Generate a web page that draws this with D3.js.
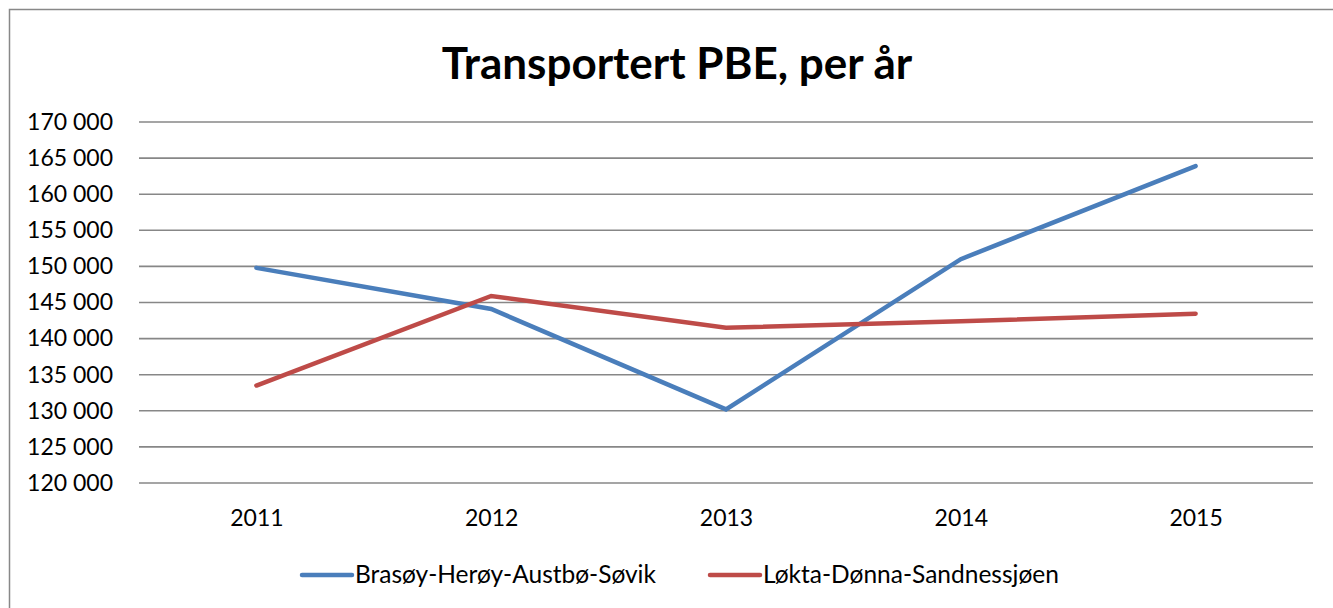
<!DOCTYPE html>
<html>
<head>
<meta charset="utf-8">
<script src="https://cdn.jsdelivr.net/npm/d3@7"></script>
<style>
  body { margin: 0; background: #fff; }
  svg { display: block; font-family: Lato, 'Open Sans', sans-serif; }
</style>
</head>
<body>
<svg id="chart" width="1333" height="608"></svg>
<script>
// chart data
var years = ['2011', '2012', '2013', '2014', '2015'];
var brasoyValues = [149800, 144100, 130200, 151000, 163900];
var loktaValues = [133500, 145900, 141500, 142400, 143450];
var seriesNames = ['Brasøy-Herøy-Austbø-Søvik', 'Løkta-Dønna-Sandnessjøen'];
var seriesColors = ['#4a7ebb', '#be4b48'];
var yTicks = [120000, 125000, 130000, 135000, 140000, 145000, 150000, 155000, 160000, 165000, 170000];

var svg = d3.select('#chart');
var margin = {top: 122, left: 139, right: 20};
var chartWidth = 1333 - margin.left - margin.right;
var chartHeight = 483 - margin.top;

// outer frame, only top and left show inside the window
svg.append('rect')
  .attr('x', 9.5).attr('y', 9.5)
  .attr('width', 1340).attr('height', 620)
  .attr('fill', 'none')
  .attr('stroke', '#888')
  .attr('stroke-width', 1.5);

svg.append('text')
  .attr('x', 677)
  .attr('y', 79)
  .attr('text-anchor', 'middle')
  .attr('font-size', 44)
  .attr('font-weight', 'bold')
  .text('Transportert PBE, per år');

var chartGroup = svg.append('g')
  .attr('transform', 'translate(' + margin.left + ',' + margin.top + ')');

var xScale = d3.scalePoint().domain(years).range([0, chartWidth]).padding(0.5);
var yScale = d3.scaleLinear().domain([120000, 170000]).range([chartHeight, 0]);

var fmt = function(d) {
  return d3.format(',')(d).replace(',', ' ');
};

// gridlines
chartGroup.selectAll('.grid').data(yTicks).enter().append('line')
  .attr('class', 'grid')
  .attr('x1', 0).attr('x2', chartWidth)
  .attr('y1', function(d) { return yScale(d); })
  .attr('y2', function(d) { return yScale(d); })
  .attr('stroke', '#878787')
  .attr('stroke-width', 1.6);

var yAxis = d3.axisLeft(yScale).tickValues(yTicks).tickSize(0).tickPadding(26).tickFormat(fmt);
var yAxisGroup = chartGroup.append('g').attr('class', 'axis axis--y').call(yAxis);
yAxisGroup.select('.domain').remove();
yAxisGroup.selectAll('text').attr('font-size', 23).attr('fill', '#000')
  .attr('font-family', 'Lato, sans-serif');

var xAxis = d3.axisBottom(xScale).tickSize(0).tickPadding(27);
var xAxisGroup = chartGroup.append('g')
  .attr('class', 'axis axis--x')
  .attr('transform', 'translate(0,' + chartHeight + ')')
  .call(xAxis);
xAxisGroup.select('.domain').remove();
xAxisGroup.selectAll('text').attr('font-size', 23).attr('fill', '#000')
  .attr('font-family', 'Lato, sans-serif');

var allSeries = [brasoyValues, loktaValues];
var line = d3.line()
  .x(function(d, i) { return xScale(years[i]); })
  .y(function(d) { return yScale(d); });

chartGroup.selectAll('.series').data(allSeries).enter().append('path')
  .attr('class', 'series')
  .attr('d', line)
  .attr('fill', 'none')
  .attr('stroke', function(d, i) { return seriesColors[i]; })
  .attr('stroke-width', 4.5)
  .attr('stroke-linecap', 'round')
  .attr('stroke-linejoin', 'miter');

// legend
var legendX = [300, 708];
var legend = svg.selectAll('.legend').data(seriesNames).enter().append('g')
  .attr('class', 'legend')
  .attr('transform', function(d, i) { return 'translate(' + legendX[i] + ',575)'; });
legend.append('line')
  .attr('x1', 2).attr('x2', 52)
  .attr('stroke', function(d, i) { return seriesColors[i]; })
  .attr('stroke-width', 4.5)
  .attr('stroke-linecap', 'round');
legend.append('text')
  .attr('x', 55)
  .attr('y', 8)
  .attr('font-size', 24.5)
  .text(function(d) { return d; });
</script>
</body>
</html>
